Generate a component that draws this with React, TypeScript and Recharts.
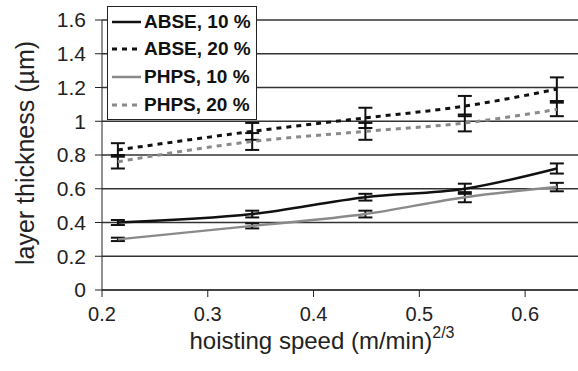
import React from 'react';
import { LineChart, Line, XAxis, YAxis, CartesianGrid, ErrorBar, Label } from 'recharts';

const speeds = [0.215, 0.342, 0.449, 0.543, 0.63];
const abse10 = [0.4, 0.45, 0.55, 0.6, 0.72];
const abse20 = [0.83, 0.94, 1.02, 1.09, 1.19];
const phps10 = [0.3, 0.38, 0.45, 0.55, 0.61];
const phps20 = [0.76, 0.88, 0.94, 0.99, 1.07];
const abse10Err = [0.015, 0.02, 0.02, 0.03, 0.03];
const abse20Err = [0.04, 0.05, 0.06, 0.06, 0.07];
const phps10Err = [0.01, 0.015, 0.02, 0.03, 0.025];
const phps20Err = [0.04, 0.05, 0.05, 0.05, 0.04];
const xTicks = [0.2, 0.3, 0.4, 0.5, 0.6];
const yTicks = [0, 0.2, 0.4, 0.6, 0.8, 1, 1.2, 1.4, 1.6];

const data = speeds.map((x, i) => ({
  x,
  abse10: abse10[i],
  abse20: abse20[i],
  phps10: phps10[i],
  phps20: phps20[i],
  abse10Err: abse10Err[i],
  abse20Err: abse20Err[i],
  phps10Err: phps10Err[i],
  phps20Err: phps20Err[i],
}));

const series = [
  { key: 'abse10', err: 'abse10Err', name: 'ABSE, 10 %', color: '#111', dash: undefined, width: 2.5 },
  { key: 'abse20', err: 'abse20Err', name: 'ABSE, 20 %', color: '#111', dash: '5 5', width: 3 },
  { key: 'phps10', err: 'phps10Err', name: 'PHPS, 10 %', color: '#8a8a8a', dash: undefined, width: 2.5 },
  { key: 'phps20', err: 'phps20Err', name: 'PHPS, 20 %', color: '#8a8a8a', dash: '5 5', width: 3 },
];

const font = 'Arial, "Liberation Sans", sans-serif';

const LegendBox = () => (
  <div
    style={{
      position: 'absolute',
      left: 107,
      top: 6,
      background: '#fff',
      border: '1.5px solid #222',
      padding: '1px 5px 1px 4px',
      fontFamily: font,
      fontSize: 19,
      fontWeight: 'bold',
      color: '#111',
    }}
  >
    {series.map((s) => (
      <div key={s.key} style={{ display: 'flex', alignItems: 'center', height: 27.6 }}>
        <svg width={29} height={8} style={{ marginRight: 3 }}>
          <line x1={0} y1={4} x2={29} y2={4} stroke={s.color} strokeWidth={s.width} strokeDasharray={s.dash} />
        </svg>
        <span>{s.name}</span>
      </div>
    ))}
  </div>
);

const XTitle = (props: any) => {
  const vb = props.viewBox || {};
  return (
    <text x={322} y={vb.y + 59} textAnchor="middle" fontFamily={font} fontSize={24} fill="#222">
      hoisting speed (m/min)
      <tspan dy={-11} fontSize={16}>2/3</tspan>
    </text>
  );
};

const YTitle = () => (
  <text
    x={34}
    y={153}
    transform="rotate(-90, 34, 153)"
    textAnchor="middle"
    fontFamily={font}
    fontSize={25}
    fill="#222"
  >
    layer thickness (µm)
  </text>
);

export default function App() {
  return (
    <div style={{ position: 'absolute', left: 0, top: 0, width: 578, height: 371, background: '#fff' }}>
      <LineChart width={578} height={371} data={data} margin={{ top: 20, right: 0, left: 42, bottom: 51 }}>
        <CartesianGrid vertical={false} stroke="#333" strokeWidth={1.3} />
        <XAxis
          dataKey="x"
          type="number"
          domain={[0.2, 0.65]}
          ticks={xTicks}
          interval={0}
          allowDataOverflow
          height={30}
          stroke="#222"
          tickSize={7}
          tickMargin={10}
          tick={{ fontFamily: font, fontSize: 20, fill: '#222' }}
          tickFormatter={(v: number) => String(v)}
        >
          <Label content={<XTitle />} />
        </XAxis>
        <YAxis
          type="number"
          domain={[0, 1.6]}
          ticks={yTicks}
          interval={0}
          width={60}
          stroke="#222"
          tickSize={7}
          tickMargin={9}
          tick={{ fontFamily: font, fontSize: 21, fill: '#222' }}
          tickFormatter={(v: number) => String(v)}
        >
          <Label content={<YTitle />} />
        </YAxis>
        {series.map((s) => (
          <Line
            key={s.key}
            type="monotone"
            dataKey={s.key}
            name={s.name}
            stroke={s.color}
            strokeWidth={s.width}
            strokeDasharray={s.dash}
            dot={false}
            isAnimationActive={false}
          >
            <ErrorBar dataKey={s.err} direction="y" width={7} stroke="#111" strokeWidth={2} />
          </Line>
        ))}
      </LineChart>
      <LegendBox />
    </div>
  );
}
